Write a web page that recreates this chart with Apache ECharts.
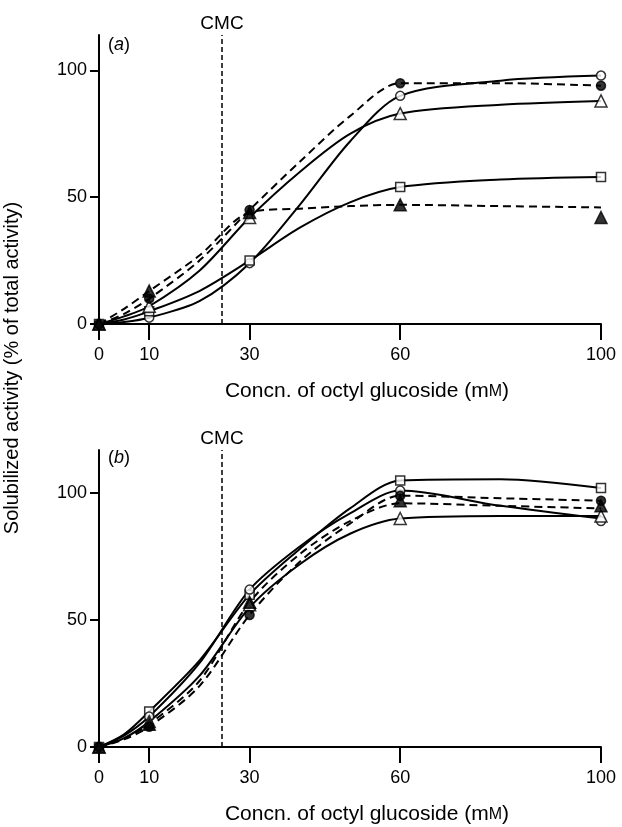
<!DOCTYPE html>
<html>
<head>
<meta charset="utf-8">
<script src="https://cdn.jsdelivr.net/npm/echarts@6/dist/echarts.min.js"></script>
<style>
  html, body { margin: 0; padding: 0; background: #fff; }
  #chart { width: 622px; height: 827px; }
</style>
</head>
<body>
<div id="chart"></div>
<script>
// concentrations (mM) and tick labels
const xs = [0, 10, 30, 60, 100];
const curveX = [0, 5, 10, 20, 30, 40, 50, 60, 80, 100];
const xTicks = [0, 10, 30, 60, 100];
const yTicks = [0, 50, 100];
const cmc = 24.5;

// panel (a): measured points
const aOpenCircle = [0, 2.5, 24, 90, 98];
const aOpenSquare = [0, 5, 25, 54, 58];
const aOpenTriangle = [0, 7, 42, 83, 88];
const aFilledCircle = [0, 10, 45, 95, 94];
const aFilledTriangle = [0, 13, 44, 47, 42];
// panel (a): drawn curves, read at curveX
const aOpenCircleCurve = [0, 0.8, 2.5, 9, 24, 47, 72, 90, 96, 98];
const aOpenSquareCurve = [0, 1.8, 5, 13, 25, 38, 48, 54, 57, 58];
const aOpenTriangleCurve = [0, 3, 7, 21, 42, 60, 75, 83, 86.5, 88];
const aFilledCircleCurve = [0, 4, 10, 25, 45, 64, 82, 95, 95, 94];
const aFilledTriangleCurve = [0, 6, 13, 27, 44, 45.5, 46.5, 47, 46.5, 46];

// panel (b): measured points
const bOpenSquare = [0, 14, 60, 105, 102];
const bOpenCircle = [0, 12, 62, 101, 89];
const bOpenTriangle = [0, 10, 56, 90, 91];
const bFilledCircle = [0, 8, 52, 99, 97];
const bFilledTriangle = [0, 9, 57, 97, 95];
// panel (b): drawn curves, read at curveX
const bOpenSquareCurve = [0, 5, 14, 34, 60, 78, 94, 105, 105.5, 102];
const bOpenCircleCurve = [0, 4.5, 12, 33, 62, 79, 92, 101, 95, 90];
const bOpenTriangleCurve = [0, 3.5, 10, 28, 55, 72, 84, 90, 91, 91];
const bFilledCircleCurve = [0, 3, 8, 24, 52, 73, 88, 99, 98, 97];
const bFilledTriangleCurve = [0, 3.3, 9, 26, 57, 76, 89, 96, 95, 94];

const FONT = "Liberation Sans";

function pairs(xv, vals) {
  return xv.map((x, i) => [x, vals[i]]);
}

function curve(g, vals, dashed) {
  return {
    type: "line",
    xAxisIndex: g,
    yAxisIndex: g,
    data: pairs(curveX, vals),
    smooth: 0.3,
    symbol: "none",
    silent: true,
    lineStyle: { color: "#000", width: 2, type: dashed ? [8, 5] : "solid" },
    z: 2,
  };
}

function marks(g, vals, symbol, filled) {
  const tri = symbol === "triangle";
  return {
    type: "scatter",
    xAxisIndex: g,
    yAxisIndex: g,
    data: pairs(xs, vals),
    symbol: symbol,
    symbolSize: tri ? 12 : 9,
    silent: true,
    itemStyle: {
      color: filled ? "#000" : "#fff",
      borderColor: "#000",
      borderWidth: 1.5,
    },
    z: 5,
  };
}

function cmcLine(g) {
  return {
    type: "line",
    xAxisIndex: g,
    yAxisIndex: g,
    data: [],
    markLine: {
      silent: true,
      symbol: ["none", "none"],
      lineStyle: { color: "#000", width: 1.5, type: [5, 3] },
      label: {
        formatter: "CMC",
        position: "end",
        color: "#000",
        fontFamily: FONT,
        fontSize: 19,
        distance: 2,
      },
      data: [{ xAxis: cmc }],
    },
  };
}

function xAxis(g) {
  return {
    type: "value",
    gridIndex: g,
    min: 0,
    max: 100,
    name: "Concn. of octyl glucoside (m{sc|M})",
    nameLocation: "middle",
    nameGap: 57,
    nameTextStyle: {
      color: "#000",
      fontFamily: FONT,
      fontSize: 21,
      padding: [0, 0, 0, 34],
      rich: { sc: { fontFamily: FONT, fontSize: 16, color: "#000" } },
    },
    axisLine: { lineStyle: { color: "#000", width: 2 } },
    axisTick: {
      show: true,
      inside: false,
      length: 16,
      customValues: xTicks,
      lineStyle: { color: "#000", width: 2 },
    },
    axisLabel: {
      customValues: xTicks,
      margin: 22,
      color: "#000",
      fontFamily: FONT,
      fontSize: 18,
    },
    splitLine: { show: false },
  };
}

function yAxis(g, max) {
  return {
    type: "value",
    gridIndex: g,
    min: 0,
    max: max,
    axisLine: { show: true, lineStyle: { color: "#000", width: 2 } },
    axisTick: {
      show: true,
      length: 9,
      customValues: yTicks,
      lineStyle: { color: "#000", width: 2 },
    },
    axisLabel: {
      customValues: yTicks,
      margin: 12,
      color: "#000",
      fontFamily: FONT,
      fontSize: 18,
    },
    splitLine: { show: false },
  };
}

const chart = echarts.init(document.getElementById("chart"));

chart.setOption({
  backgroundColor: "#fff",
  animation: false,
  grid: [
    { left: 99, right: 21, top: 35, height: 289 },
    { left: 99, right: 21, top: 450, height: 297 },
  ],
  xAxis: [xAxis(0), xAxis(1)],
  yAxis: [yAxis(0, 114), yAxis(1, 117)],
  graphic: [
    {
      type: "text",
      x: 12,
      y: 368,
      rotation: Math.PI / 2,
      style: {
        text: "Solubilized activity (% of total activity)",
        fontFamily: FONT,
        fontSize: 20,
        fill: "#000",
        align: "center",
        verticalAlign: "middle",
      },
    },
    {
      type: "text",
      x: 108,
      y: 36,
      style: {
        text: "({i|a})",
        fontFamily: FONT,
        fontSize: 18,
        fill: "#000",
        rich: { i: { fontStyle: "italic", fontFamily: FONT, fontSize: 18 } },
      },
    },
    {
      type: "text",
      x: 108,
      y: 449,
      style: {
        text: "({i|b})",
        fontFamily: FONT,
        fontSize: 18,
        fill: "#000",
        rich: { i: { fontStyle: "italic", fontFamily: FONT, fontSize: 18 } },
      },
    },
  ],
  series: [
    cmcLine(0),
    curve(0, aOpenCircleCurve, false),
    curve(0, aOpenSquareCurve, false),
    curve(0, aOpenTriangleCurve, false),
    curve(0, aFilledCircleCurve, true),
    curve(0, aFilledTriangleCurve, true),
    marks(0, aOpenCircle, "circle", false),
    marks(0, aOpenSquare, "rect", false),
    marks(0, aOpenTriangle, "triangle", false),
    marks(0, aFilledCircle, "circle", true),
    marks(0, aFilledTriangle, "triangle", true),

    cmcLine(1),
    curve(1, bOpenSquareCurve, false),
    curve(1, bOpenCircleCurve, false),
    curve(1, bOpenTriangleCurve, false),
    curve(1, bFilledCircleCurve, true),
    curve(1, bFilledTriangleCurve, true),
    marks(1, bOpenSquare, "rect", false),
    marks(1, bOpenCircle, "circle", false),
    marks(1, bOpenTriangle, "triangle", false),
    marks(1, bFilledCircle, "circle", true),
    marks(1, bFilledTriangle, "triangle", true),
  ],
});
</script>
</body>
</html>
